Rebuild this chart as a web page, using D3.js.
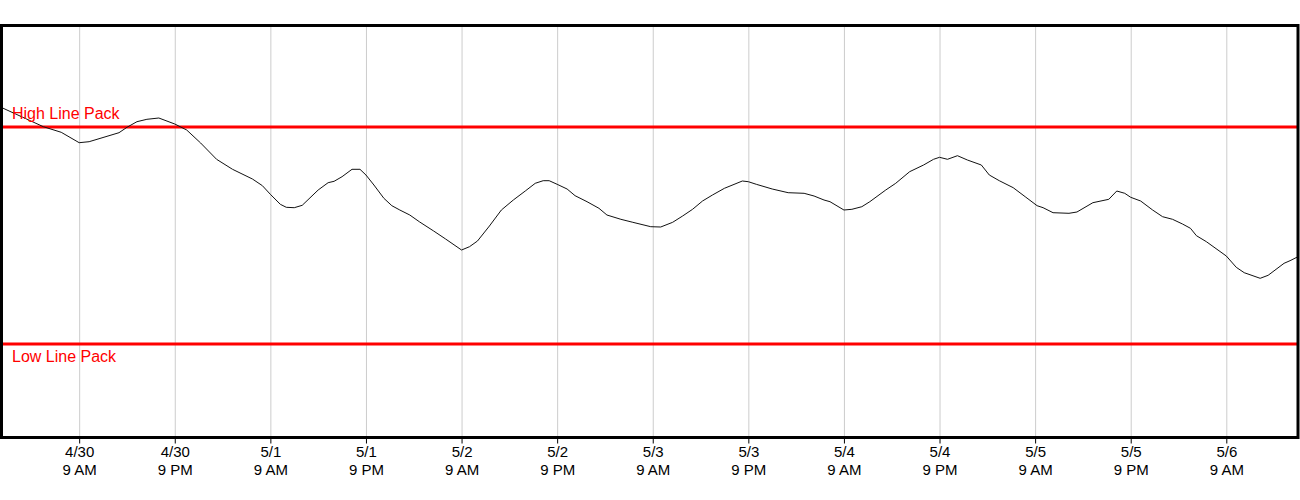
<!DOCTYPE html>
<html>
<head>
<meta charset="utf-8">
<script src="https://cdn.jsdelivr.net/npm/d3@7/dist/d3.min.js"></script>
<style>
html,body{margin:0;padding:0;background:#fff;}
svg{display:block;font-family:"Liberation Sans",Arial,sans-serif;}
</style>
</head>
<body>
<svg id="chart" width="1300" height="500"></svg>
<script>
// ---- data ----
const times = [
"2024-04-29 23:15","2024-04-30 04:30","2024-04-30 06:45","2024-04-30 09:00","2024-04-30 10:15",
"2024-04-30 14:00","2024-04-30 15:00","2024-04-30 16:15","2024-04-30 17:30","2024-04-30 19:00",
"2024-04-30 21:00","2024-04-30 22:30","2024-05-01 00:15","2024-05-01 02:15","2024-05-01 04:15",
"2024-05-01 06:45","2024-05-01 08:00","2024-05-01 09:00","2024-05-01 10:15","2024-05-01 11:00",
"2024-05-01 12:00","2024-05-01 13:00","2024-05-01 15:00","2024-05-01 16:15","2024-05-01 17:00",
"2024-05-01 18:00","2024-05-01 19:15","2024-05-01 20:15","2024-05-01 21:00","2024-05-01 22:00",
"2024-05-01 23:15","2024-05-02 00:15","2024-05-02 01:15","2024-05-02 02:30","2024-05-02 03:45",
"2024-05-02 05:30","2024-05-02 07:00","2024-05-02 09:00","2024-05-02 10:00","2024-05-02 11:00",
"2024-05-02 12:30","2024-05-02 14:00","2024-05-02 15:30","2024-05-02 17:00","2024-05-02 18:15",
"2024-05-02 19:15","2024-05-02 20:00","2024-05-02 21:00","2024-05-02 22:15","2024-05-02 23:15",
"2024-05-03 00:45","2024-05-03 02:15","2024-05-03 03:15","2024-05-03 05:00","2024-05-03 06:30",
"2024-05-03 08:45","2024-05-03 10:00","2024-05-03 11:30","2024-05-03 12:45","2024-05-03 14:00",
"2024-05-03 15:15","2024-05-03 16:30","2024-05-03 18:00","2024-05-03 20:15","2024-05-03 21:00",
"2024-05-03 22:00","2024-05-04 00:00","2024-05-04 02:00","2024-05-04 04:00","2024-05-04 05:15",
"2024-05-04 06:30","2024-05-04 07:15","2024-05-04 09:00","2024-05-04 10:00","2024-05-04 11:15",
"2024-05-04 12:15","2024-05-04 14:15","2024-05-04 15:30","2024-05-04 17:15","2024-05-04 19:00",
"2024-05-04 20:15","2024-05-04 21:00","2024-05-04 22:00","2024-05-04 23:15","2024-05-05 00:30",
"2024-05-05 02:15","2024-05-05 03:15","2024-05-05 04:30","2024-05-05 06:15","2024-05-05 07:45",
"2024-05-05 09:15","2024-05-05 10:00","2024-05-05 11:15","2024-05-05 13:15","2024-05-05 14:15",
"2024-05-05 16:15","2024-05-05 18:15","2024-05-05 19:15","2024-05-05 20:15","2024-05-05 21:00",
"2024-05-05 22:15","2024-05-05 23:45","2024-05-06 01:00","2024-05-06 02:15","2024-05-06 03:30",
"2024-05-06 04:30","2024-05-06 05:15","2024-05-06 06:30","2024-05-06 09:00","2024-05-06 10:15",
"2024-05-06 11:15","2024-05-06 13:15","2024-05-06 14:15","2024-05-06 16:15","2024-05-06 17:00",
"2024-05-06 18:00"
];
const linePack = [
330.0,310.8,305.2,294.8,295.8,
304.8,310.2,315.8,318.2,319.5,
313.5,307.5,294.5,278.2,268.2,
258.5,251.8,243.2,233.2,230.2,
229.8,232.2,247.5,254.8,256.2,
260.8,268.2,268.2,262.5,252.5,
239.2,231.8,227.5,222.5,215.5,
206.5,198.5,187.5,190.8,196.5,
211.5,227.5,237.5,246.5,254.2,
256.8,256.8,253.2,248.5,241.8,
235.8,229.2,222.5,218.2,215.2,
210.8,210.5,215.2,221.5,228.2,
236.5,242.5,249.2,256.5,255.8,
253.2,248.5,244.8,244.2,241.5,
237.5,235.8,227.5,228.2,230.8,
235.8,247.5,254.2,265.8,272.5,
278.2,280.2,278.2,281.8,277.5,
272.5,262.5,256.8,249.8,240.8,
231.8,229.8,224.8,224.2,225.5,
234.8,238.2,246.5,244.2,240.2,
236.5,227.5,220.8,218.2,213.5,
209.2,201.8,195.8,181.5,170.2,
164.8,159.2,162.2,174.2,176.8,
180.8
];
const highLinePack = 310.5;
const lowLinePack = 93.5;
const limitLabels = ["High Line Pack", "Low Line Pack"];
const tickTimes = [
"2024-04-30 09:00","2024-04-30 21:00","2024-05-01 09:00","2024-05-01 21:00",
"2024-05-02 09:00","2024-05-02 21:00","2024-05-03 09:00","2024-05-03 21:00",
"2024-05-04 09:00","2024-05-04 21:00","2024-05-05 09:00","2024-05-05 21:00",
"2024-05-06 09:00"
];
const yDomain = [0, 412];

// ---- build ----
(function () {
const parse = d3.timeParse("%Y-%m-%d %H:%M");
const data = times.map((t, i) => ({ t: parse(t), v: linePack[i] }));
const ticks = tickTimes.map(parse);

const pL = 1.5, pR = 1298, pT = 25.5, pB = 437.5;
const svg = d3.select("#chart");

const x = d3.scaleTime().domain(d3.extent(data, d => d.t)).range([pL, pR]);
const y = d3.scaleLinear().domain(yDomain).range([pB, pT]);

svg.append("defs").append("clipPath").attr("id", "plotclip")
  .append("rect").attr("x", pL).attr("y", pT).attr("width", pR - pL).attr("height", pB - pT);

// grid
const grid = svg.append("g").attr("transform", `translate(0,${pB})`)
  .call(d3.axisBottom(x).tickValues(ticks).tickSize(-(pB - pT)).tickFormat(""));
grid.select(".domain").remove();
grid.selectAll(".tick line").attr("stroke", "#cccccc").attr("stroke-width", 1);

// bottom axis ticks and labels
const axis = svg.append("g").attr("transform", `translate(0,${pB})`)
  .call(d3.axisBottom(x).tickValues(ticks).tickSize(6).tickFormat(""));
axis.select(".domain").remove();
axis.selectAll(".tick line").attr("stroke", "#000").attr("stroke-width", 1);
const fmtDate = d3.timeFormat("%-m/%-d");
const fmtTime = d3.timeFormat("%-I %p");
axis.selectAll(".tick").each(function(d) {
  const g = d3.select(this);
  g.append("text").attr("y", 19.5).attr("text-anchor", "middle").attr("fill", "#000")
    .attr("font-size", 15).text(fmtDate(d));
  g.append("text").attr("y", 37.5).attr("text-anchor", "middle").attr("fill", "#000")
    .attr("font-size", 15).text(fmtTime(d));
});

const plot = svg.append("g").attr("clip-path", "url(#plotclip)");

// limit lines
[highLinePack, lowLinePack].forEach(v => {
  plot.append("line").attr("x1", pL).attr("x2", pR)
    .attr("y1", y(v)).attr("y2", y(v))
    .attr("stroke", "#ff0000").attr("stroke-width", 3);
});

// series line
plot.append("path").datum(data)
  .attr("fill", "none").attr("stroke", "#111").attr("stroke-width", 1)
  .attr("d", d3.line().x(d => x(d.t)).y(d => y(d.v)));

// limit labels
svg.append("text").attr("x", 12).attr("y", y(highLinePack) - 8)
  .attr("fill", "#ff0000").attr("font-size", 16).text(limitLabels[0]);
svg.append("text").attr("x", 12).attr("y", y(lowLinePack) + 17.5)
  .attr("fill", "#ff0000").attr("font-size", 16).text(limitLabels[1]);

// frame
svg.append("rect").attr("x", pL).attr("y", pT)
  .attr("width", pR - pL).attr("height", pB - pT)
  .attr("fill", "none").attr("stroke", "#000").attr("stroke-width", 3);
})();
</script>
</body>
</html>
